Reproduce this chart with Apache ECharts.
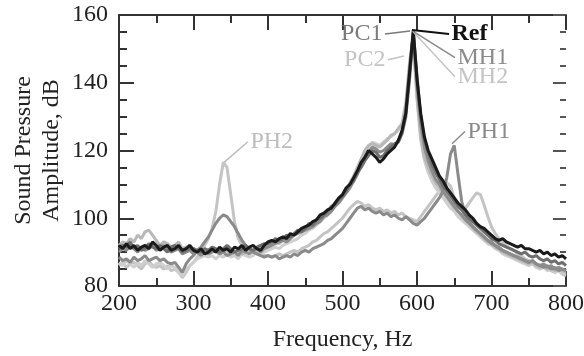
<!DOCTYPE html>
<html>
<head>
<meta charset="utf-8">
<script src="https://cdn.jsdelivr.net/npm/echarts@6/dist/echarts.min.js"></script>
<style>
  html, body { margin: 0; padding: 0; background: #fff; }
  #chart { width: 584px; height: 356px; }
</style>
</head>
<body>
<div id="chart"></div>
<script>
// frequency grid, 200..800 Hz every 5 Hz
const freq = Array.from({ length: 121 }, (_, i) => 200 + i * 5)

const ref = [
  92, 91, 92.5, 91, 92, 90.5, 91.5, 92, 91, 93,
  92, 90.5, 91.5, 92, 90.5, 91, 92, 90.5, 91, 92,
  90.5, 90, 91, 89.5, 90, 91, 90, 91.5, 90.5, 91,
  90, 91.5, 91, 92, 90.5, 91.5, 92, 91, 90.5, 92,
  93, 93.5, 93, 94, 94.5, 94, 95.5, 95, 96, 97,
  97.5, 98, 99, 99.5, 101, 101.5, 102.5, 103, 104.5, 106,
  107, 109, 110, 112, 114, 116.5, 118, 120, 119, 118,
  116.5, 117.5, 119, 120, 121, 123, 126, 131, 143, 155.5,
  141, 131, 124, 120, 117.5, 115, 112.5, 111, 109, 107.5,
  106, 104.5, 103.5, 102.5, 101, 100, 98.5, 97.5, 97, 96,
  95, 94, 93.5, 94, 93, 92.5, 92, 91.5, 92, 91,
  91, 90.5, 90, 90.5, 89.5, 90, 89, 89.5, 88.5, 89,
  88
]
const pc1 = [
  91, 92, 91.5, 93, 91, 92, 90.5, 91, 92.5, 91.5,
  91, 92, 91, 90, 91.5, 92, 91, 90, 90.5, 91,
  91, 90.5, 90, 91, 90.5, 91.5, 91, 90, 91, 92,
  91, 90, 90.5, 91, 92, 91, 90.5, 91.5, 92, 92.5,
  92.5, 93, 94, 93.5, 94, 95, 94.5, 95.5, 96.5, 96,
  97, 98.5, 98, 99.5, 100, 101, 102, 103.5, 104, 105.5,
  106.5, 108, 110, 111, 113.5, 115, 117, 118.5, 120, 119.5,
  118, 118.5, 120, 121, 122, 122.5, 125, 130, 141, 155,
  142, 130, 123, 119.5, 116, 113.5, 111.5, 109.5, 108, 106.5,
  105, 103.5, 102.5, 101, 100, 99, 98, 97, 96, 95,
  94, 93.5, 92.5, 92, 91.5, 91, 90.5, 90, 89.5, 90,
  89, 88.5, 89, 88, 87.5, 88, 87, 87.5, 86.5, 87,
  86
]
const pc2 = [
  92, 93, 92.5, 94, 93, 95, 94, 96, 96.5, 95,
  93.5, 92, 93, 92.5, 91.5, 92, 93, 91, 91.5, 92,
  91, 90.5, 91, 90, 90.5, 91, 90, 89.5, 90, 90.5,
  89.5, 90, 90.5, 89.5, 90, 91, 90, 90.5, 91.5, 91,
  92, 92.5, 93, 92.5, 93.5, 94, 94.5, 95, 95.5, 96.5,
  97, 97.5, 98.5, 99, 100, 101, 102.5, 103, 104, 105.5,
  107, 108.5, 110.5, 112.5, 115, 117.5, 120, 121.5, 122, 121.5,
  121, 122, 123, 124.5, 125, 126.5, 128, 134, 146, 154,
  136, 124, 118, 115, 112.5, 110.5, 109, 107.5, 106, 104.5,
  103, 102, 100.5, 99.5, 98.5, 97, 96, 95, 94, 93,
  92.5, 91.5, 91, 90, 89.5, 89, 88.5, 88, 87.5, 87,
  86.5, 87, 86, 85.5, 86, 85, 85.5, 84.5, 85, 84.5,
  84
]
const mh1 = [
  90, 91, 90.5, 92, 91, 90, 91.5, 90.5, 91, 92,
  90.5, 91, 92, 91, 90, 90.5, 91, 89.5, 90, 90.5,
  89.5, 90, 89, 90, 89.5, 90, 90.5, 89.5, 90, 89,
  89.5, 90, 89, 90.5, 90, 89.5, 90.5, 91, 90, 91,
  91.5, 92, 92.5, 93, 93.5, 93, 94, 95, 95.5, 96,
  96.5, 97, 97.5, 98.5, 99, 100.5, 101, 102, 103.5, 104.5,
  106, 107.5, 109, 111, 113, 115.5, 118, 119.5, 121, 120.5,
  119.5, 120, 121, 122, 121.5, 123, 125.5, 132, 144, 154.5,
  139, 128, 121, 117, 114, 111.5, 110, 108, 106.5, 105,
  103.5, 102, 101, 99.5, 98.5, 97.5, 96.5, 95.5, 94.5, 93.5,
  93, 92, 91.5, 90.5, 90, 89.5, 89, 88.5, 88, 87.5,
  87, 87.5, 86.5, 86, 86.5, 85.5, 86, 85, 85.5, 85,
  84.5
]
const mh2 = [
  87, 86, 87.5, 86.5, 85.5, 87, 86, 87.5, 86.5, 85.5,
  86.5, 87, 86, 85, 86, 85.5, 84, 83, 85, 86,
  87, 88, 88.5, 89, 88.5, 89, 88, 89, 88.5, 89.5,
  88.5, 89, 88, 89.5, 89, 88.5, 89, 90, 89.5, 90,
  90.5, 91, 91.5, 91, 92, 92.5, 93, 93.5, 94, 95,
  95.5, 96.5, 97, 98, 99, 100, 101, 102.5, 103.5, 105,
  106.5, 108, 110, 112, 114.5, 117, 119.5, 121, 122.5, 122,
  121.5, 122.5, 123.5, 124, 125, 126, 127.5, 133, 143, 151.5,
  135, 123, 117, 113.5, 111, 109, 107.5, 106, 104.5, 103,
  102, 100.5, 99.5, 98.5, 97.5, 96.5, 95.5, 94.5, 93.5, 92.5,
  92, 91, 90.5, 89.5, 89, 88.5, 88, 87.5, 87, 86.5,
  86, 86.5, 85.5, 85, 85.5, 84.5, 85, 84, 84.5, 84,
  83.5
]
const ph1 = [
  88.5, 87.5, 88, 87, 88.5, 87.5, 88, 89, 87.5, 88,
  88.5, 87.5, 88, 87, 86.5, 87, 85.5, 84, 86.5, 88,
  89, 90.5, 91.5, 93, 94.5, 96.5, 98.5, 100, 101, 100.5,
  99, 97.5, 95.5, 93.5, 92, 91, 90, 89.5, 89, 88.5,
  89, 88.5, 89, 88, 88.5, 89, 88.5, 89.5, 89, 90,
  90.5, 90, 91, 91.5, 92, 92.5, 93.5, 94, 95, 96,
  97, 98.5, 100, 101.5, 103, 103.5, 102.5, 103, 102, 101.5,
  102, 101, 101.5, 100.5, 101, 100, 99.5, 100.5, 99.5, 98.5,
  98, 99, 100, 101.5, 103, 104.5, 106, 108, 112, 119,
  121.5, 113, 105, 101, 99, 97.5, 96.5, 95.5, 94.5, 93.5,
  92.5, 92, 91, 90.5, 90, 89.5, 89, 88.5, 88, 87.5,
  87, 87.5, 86.5, 86, 85.5, 86, 85, 85.5, 84.5, 85,
  84.5
]
const ph2 = [
  86, 87, 85.5, 86.5, 87, 86, 85, 86.5, 87.5, 86,
  85.5, 86, 85, 86, 84.5, 85, 84, 82.5, 84, 86,
  87, 88.5, 90, 92, 94, 97, 102, 110, 116.5, 115,
  107, 99, 94, 92, 91, 90.5, 90, 89.5, 90, 89,
  89, 88.5, 89, 89.5, 89, 89.5, 90, 90.5, 90, 91,
  91.5, 92, 93, 93.5, 94.5, 95.5, 96, 97, 98, 99,
  100, 101.5, 103, 104, 105, 104.5, 103.5, 104, 103, 102.5,
  103, 102, 102.5, 101.5, 102, 101, 101.5, 100.5, 100, 99.5,
  99, 100.5, 102, 103.5, 105, 106.5, 108, 109.5, 110.5, 109.5,
  106, 103.5, 102.5, 103, 104.5, 106, 107.5, 107, 104, 100.5,
  97.5, 95.5, 94, 93, 92, 91, 90.5, 89.5, 89, 88,
  87.5, 87, 86.5, 86, 85.5, 85, 84.5, 84, 84.5, 83.5,
  83
]

const fontFamily = '"Liberation Serif", "DejaVu Serif", serif'
const axisColor = '#333'

const chart = echarts.init(document.getElementById('chart'))

// leader line + label for a curve
const annotate = (text, from, to, side, color, bold) => ({
  markLine: {
    silent: true,
    symbol: 'none',
    animation: false,
    lineStyle: { color: color, width: bold ? 2 : 1.5, type: 'solid' },
    label: { show: false },
    data: [[{ coord: from }, { coord: to }]]
  },
  markPoint: {
    silent: true,
    symbol: 'circle',
    symbolSize: 1,
    itemStyle: { color: 'rgba(0,0,0,0)' },
    label: {
      show: true,
      position: side,
      distance: 2,
      formatter: text,
      color: color,
      fontFamily: fontFamily,
      fontSize: 24,
      fontWeight: bold ? 'bold' : 'normal'
    },
    data: [{ coord: to }]
  }
})

const makeSeries = (name, values, color, note) => Object.assign({
  name: name,
  type: 'line',
  data: freq.map((f, i) => [f, values[i]]),
  symbol: 'none',
  lineStyle: { color: color, width: 3 },
  itemStyle: { color: color },
  z: 2
}, note)

const xCommon = {
  type: 'value',
  min: 200,
  max: 800,
  interval: 100,
  axisLine: { show: true, onZero: false, lineStyle: { color: axisColor, width: 2 } },
  axisTick: { show: true, inside: true, length: 15, lineStyle: { color: axisColor, width: 2 } },
  minorTick: { show: true, splitNumber: 2, length: 8, lineStyle: { color: axisColor, width: 2 } },
  splitLine: { show: false }
}
const yCommon = {
  type: 'value',
  min: 80,
  max: 160,
  interval: 20,
  axisTick: { show: true, inside: true, length: 15, lineStyle: { color: axisColor, width: 2 } },
  minorTick: { show: true, splitNumber: 4, length: 8, lineStyle: { color: axisColor, width: 2 } },
  splitLine: { show: false }
}

const option = {
  animation: false,
  backgroundColor: '#fff',
  grid: { left: 119, right: 18, top: 15, bottom: 70, outerBoundsMode: 'none' },
  xAxis: [
    Object.assign({}, xCommon, {
      position: 'bottom',
      name: 'Frequency, Hz',
      nameLocation: 'middle',
      nameGap: 42,
      nameMoveOverlap: false,
      nameTextStyle: { color: '#222', fontFamily: fontFamily, fontSize: 24 },
      axisLabel: { color: '#222', fontFamily: fontFamily, fontSize: 24, margin: 6 }
    }),
    Object.assign({}, xCommon, {
      position: 'top',
      axisLabel: { show: false }
    })
  ],
  yAxis: [
    Object.assign({}, yCommon, {
      position: 'left',
      axisLine: { show: true, onZero: false, lineStyle: { color: axisColor, width: 2 } },
      name: 'Sound Pressure\nAmplitude, dB',
      nameLocation: 'middle',
      nameGap: 53,
      nameMoveOverlap: false,
      nameTextStyle: { color: '#222', fontFamily: fontFamily, fontSize: 24, lineHeight: 28 },
      axisLabel: { color: '#222', fontFamily: fontFamily, fontSize: 24, margin: 11 }
    }),
    Object.assign({}, yCommon, {
      position: 'right',
      axisLine: { show: false },
      axisTick: { show: true, inside: true, length: 13, lineStyle: { color: '#555', width: 2 } },
      minorTick: { show: true, splitNumber: 4, length: 6, lineStyle: { color: '#555', width: 2 } },
      axisLabel: { show: false }
    })
  ],
  series: [
    makeSeries('PH2', ph2, '#c4c4c4', annotate('PH2', [341, 116.5], [373, 122.6], 'right', '#bdbdbd')),
    makeSeries('MH2', mh2, '#cfcfcf', annotate('MH2', [593.3, 155.4], [651, 141.8], 'right', '#c4c4c4')),
    makeSeries('PC2', pc2, '#b8b8b8', annotate('PC2', [582.6, 147.9], [561, 146.8], 'left', '#c4c4c4')),
    makeSeries('PH1', ph1, '#8a8a8a', annotate('PH1', [647, 122], [664.4, 125.6], 'right', '#8a8a8a')),
    makeSeries('MH1', mh1, '#8c8c8c', annotate('MH1', [593.3, 155.4], [651, 147.4], 'right', '#8a8a8a')),
    makeSeries('PC1', pc1, '#6e6e6e', annotate('PC1', [590.6, 155.3], [557, 154.4], 'left', '#7a7a7a')),
    makeSeries('Ref', ref, '#1a1a1a', annotate('Ref', [593.3, 155.6], [643, 154.4], 'right', '#111', true))
  ]
}

chart.setOption(option)
</script>
</body>
</html>
